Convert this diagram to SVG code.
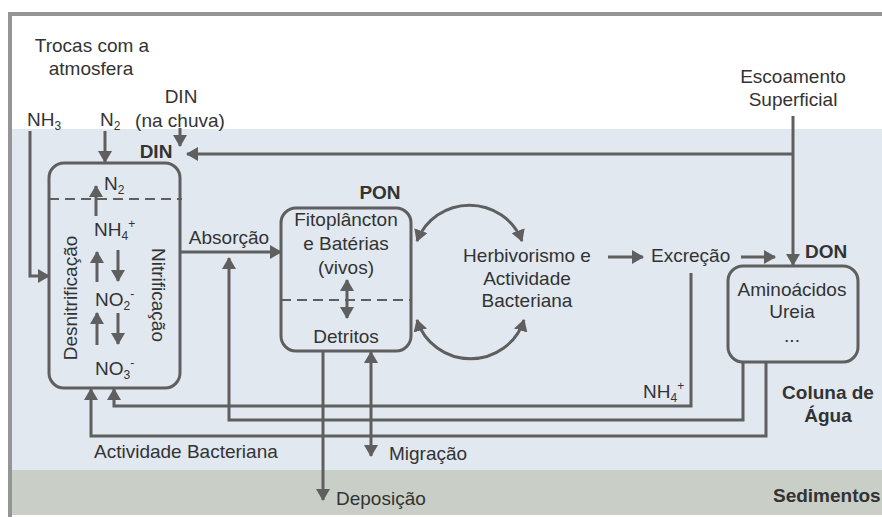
<svg xmlns="http://www.w3.org/2000/svg" width="882" height="517" viewBox="0 0 882 517">
<defs>
<marker id="ah" markerUnits="userSpaceOnUse" markerWidth="12" markerHeight="14" viewBox="0 0 12 14" refX="11" refY="7" orient="auto-start-reverse">
<path d="M0,0 L12,7 L0,14 z" fill="#5f5f5f"/>
</marker>
<style>
.t{font-family:"Liberation Sans",Arial,sans-serif;font-size:19px;fill:#333}
.b{font-weight:bold}
.m{text-anchor:middle}
.c{fill:none;stroke:#5f5f5f;stroke-width:3}
.a{marker-end:url(#ah)}
.d{marker-start:url(#ah);marker-end:url(#ah)}
.box{fill:none;stroke:#5f5f5f;stroke-width:3}
.dash{fill:none;stroke:#5f5f5f;stroke-width:2;stroke-dasharray:10 6}
.s{font-size:12px}
</style>
</defs>
<rect x="0" y="0" width="882" height="517" fill="#ffffff"/>
<rect x="12" y="129" width="870" height="341" fill="#e1e8f0"/>
<rect x="12" y="470" width="870" height="45" fill="#c9cfc7"/>
<path d="M10,517 V14 H882" fill="none" stroke="#959595" stroke-width="4"/>

<g id="connectors">
<path class="c a" d="M30,131 V276 H49"/>
<path class="c a" d="M105,131 V162"/>
<path class="c a" d="M180,128 V146"/>
<path class="c a" d="M793,154 H187"/>
<path class="c a" d="M793,116 V265"/>
<path class="c a" d="M180,252 H281"/>
<path class="c a" d="M96,216 V186"/>
<path class="c a" d="M97,282 V252"/>
<path class="c a" d="M118,250 V281"/>
<path class="c a" d="M97,345 V313"/>
<path class="c a" d="M118,313 V344"/>
<path class="c d" d="M347,280 V318"/>
<path class="c d" d="M417,241 A56,55 0 0 1 522,241"/>
<path class="c d" d="M417,320 A56,55 0 0 0 524,320"/>
<path class="c a" d="M608,257 H643"/>
<path class="c a" d="M741,257 H775"/>
<path class="c a" d="M691,273 V406 H114 V389"/>
<path class="c a" d="M743,362 V420 H229 V258"/>
<path class="c a" d="M766,362 V436 H91 V389"/>
<path class="c a" d="M323,351 V500"/>
<path class="c d" d="M371,352 V456"/>
</g>

<g id="labels-top">
<text class="t m" x="92" y="52">Trocas com a</text>
<text class="t m" x="91" y="75">atmosfera</text>
<text class="t" x="27" y="126">NH<tspan class="s" dy="4">3</tspan></text>
<text class="t" x="100" y="126">N<tspan class="s" dy="4">2</tspan></text>
<text class="t m" x="181" y="103">DIN</text>
<text class="t m" x="180" y="127">(na chuva)</text>
<text class="t m" x="793" y="83">Escoamento</text>
<text class="t m" x="793" y="106">Superficial</text>
</g>

<g id="din">
<rect class="box" x="49" y="163" width="131" height="225" rx="15"/>
<path class="dash" d="M49,199 H182"/>
<text class="t b m" x="156" y="158">DIN</text>
<text class="t" x="104" y="190">N<tspan class="s" dy="4">2</tspan></text>
<text class="t" x="94" y="236">NH<tspan class="s" dy="4">4</tspan><tspan class="s" dy="-12">+</tspan></text>
<text class="t" x="95" y="306">NO<tspan class="s" dy="4">2</tspan><tspan class="s" dy="-12">-</tspan></text>
<text class="t" x="95" y="375">NO<tspan class="s" dy="4">3</tspan><tspan class="s" dy="-12">-</tspan></text>
<text class="t m" transform="translate(77,298) rotate(-90)">Desnitrificação</text>
<text class="t m" transform="translate(152,295) rotate(90)">Nitrificação</text>
</g>

<g id="absorcao">
<text class="t m" x="229" y="244">Absorção</text>
</g>

<g id="pon">
<rect class="box" x="281" y="208" width="130" height="143" rx="15"/>
<path class="dash" d="M281,300 H411"/>
<text class="t b m" x="380" y="199">PON</text>
<text class="t m" x="346" y="226">Fitoplâncton</text>
<text class="t m" x="346" y="250">e Batérias</text>
<text class="t m" x="346" y="274">(vivos)</text>
<text class="t m" x="346" y="343">Detritos</text>
</g>

<g id="herbivorismo">
<text class="t m" x="527" y="262">Herbivorismo e</text>
<text class="t m" x="527" y="285">Actividade</text>
<text class="t m" x="527" y="307">Bacteriana</text>
</g>

<g id="excrecao">
<text class="t" x="651" y="262">Excreção</text>
<text class="t" x="643" y="398">NH<tspan class="s" dy="4">4</tspan><tspan class="s" dy="-12">+</tspan></text>
</g>

<g id="don">
<rect class="box" x="728" y="266" width="130" height="96" rx="15"/>
<text class="t b" x="805" y="258">DON</text>
<text class="t m" x="792" y="296">Aminoácidos</text>
<text class="t m" x="792" y="318">Ureia</text>
<text class="t m" x="792" y="342">...</text>
</g>

<g id="zones">
<text class="t b m" x="828" y="399">Coluna de</text>
<text class="t b m" x="828" y="422">Água</text>
<text class="t b" x="773" y="502">Sedimentos</text>
</g>

<g id="bottom-labels">
<text class="t" x="94" y="458">Actividade Bacteriana</text>
<text class="t" x="389" y="460">Migração</text>
<text class="t" x="336" y="505">Deposição</text>
</g>
</svg>
